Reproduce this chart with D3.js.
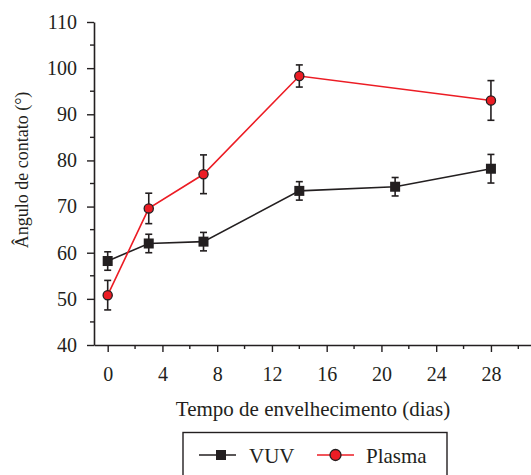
<!DOCTYPE html>
<html>
<head>
<meta charset="utf-8">
<script src="https://cdn.jsdelivr.net/npm/d3@7"></script>
<style>
  body { margin: 0; background: #fff; }
  text { font-family: "Liberation Serif", "Times New Roman", serif; fill: #231f20; }
</style>
</head>
<body>
<svg id="chart" width="531" height="475"></svg>
<script>
const days = [0, 3, 7, 14, 21, 28]
const vuv = [58.2, 62.0, 62.4, 73.4, 74.3, 78.2]
const vuvErr = [2.0, 2.0, 2.0, 2.0, 2.0, 3.1]
const plasmaDays = [0, 3, 7, 14, 28]
const plasma = [50.8, 69.6, 77.0, 98.3, 93.0]
const plasmaErr = [3.2, 3.3, 4.2, 2.4, 4.3]
const xTicks = [0, 4, 8, 12, 16, 20, 24, 28]
const yTicks = [40, 50, 60, 70, 80, 90, 100, 110]

const serif = '"Liberation Serif", "Times New Roman", serif'
const svg = d3.select('#chart')
const ink = '#231f20'
const red = '#ec1c24'

const x = d3.scaleLinear().domain([-1, 31]).range([94, 532])
const y = d3.scaleLinear().domain([40, 110]).range([345, 22])

// minor ticks halfway between labelled ones
const xMinor = d3.range(2, 31, 4)
const yMinor = d3.range(45, 110, 10)

const xAxis = svg.append('g').attr('transform', 'translate(0,345)')
xAxis.call(d3.axisBottom(x).tickValues(xTicks).tickSize(7).tickSizeOuter(0).tickPadding(15))
xAxis.append('g').selectAll('line').data(xMinor).join('line')
    .attr('x1', d => x(d)).attr('x2', d => x(d))
    .attr('y1', 0).attr('y2', 4)

const yAxis = svg.append('g').attr('transform', 'translate(94,0)')
yAxis.call(d3.axisLeft(y).tickValues(yTicks).tickSize(7).tickSizeOuter(0).tickPadding(10))
yAxis.append('g').selectAll('line').data(yMinor).join('line')
    .attr('x1', 0).attr('x2', -4)
    .attr('y1', d => y(d)).attr('y2', d => y(d))

svg.selectAll('.domain').attr('stroke', ink).attr('stroke-width', 1.6)
xAxis.selectAll('line').attr('stroke', ink).attr('stroke-width', 1.4)
yAxis.selectAll('line').attr('stroke', ink).attr('stroke-width', 1.4)
xAxis.attr('font-family', serif)
yAxis.attr('font-family', serif)
svg.selectAll('.tick text')
    .attr('font-family', serif)
    .attr('font-size', 20)
    .attr('fill', ink)

svg.append('text')
    .attr('x', 313).attr('y', 416)
    .attr('text-anchor', 'middle')
    .attr('font-family', serif)
    .attr('font-size', 21)
    .text('Tempo de envelhecimento (dias)')

svg.append('text')
    .attr('transform', 'translate(28,170) rotate(-90)')
    .attr('text-anchor', 'middle')
    .attr('font-family', serif)
    .attr('font-size', 18)
    .text('Ângulo de contato (°)')

const line = d3.line().x(d => x(d[0])).y(d => y(d[1]))

function drawSeries(xs, ys, errs, color, shape) {
    const pts = xs.map((d, i) => [d, ys[i], errs[i]])
    const g = svg.append('g')
    g.append('path').datum(pts)
        .attr('d', line)
        .attr('fill', 'none')
        .attr('stroke', color)
        .attr('stroke-width', 1.6)
    const eb = g.append('g').selectAll('g').data(pts).join('g')
        .attr('stroke', ink).attr('stroke-width', 1.6)
    eb.append('line')
        .attr('x1', d => x(d[0])).attr('x2', d => x(d[0]))
        .attr('y1', d => y(d[1] - d[2])).attr('y2', d => y(d[1] + d[2]))
    eb.append('line')
        .attr('x1', d => x(d[0]) - 3.5).attr('x2', d => x(d[0]) + 3.5)
        .attr('y1', d => y(d[1] + d[2])).attr('y2', d => y(d[1] + d[2]))
    eb.append('line')
        .attr('x1', d => x(d[0]) - 3.5).attr('x2', d => x(d[0]) + 3.5)
        .attr('y1', d => y(d[1] - d[2])).attr('y2', d => y(d[1] - d[2]))
    if (shape === 'square') {
        g.append('g').selectAll('rect').data(pts).join('rect')
            .attr('x', d => x(d[0]) - 5).attr('y', d => y(d[1]) - 5)
            .attr('width', 10).attr('height', 10)
            .attr('fill', ink)
    } else {
        g.append('g').selectAll('circle').data(pts).join('circle')
            .attr('cx', d => x(d[0])).attr('cy', d => y(d[1]))
            .attr('r', 4.6)
            .attr('fill', red)
            .attr('stroke', ink).attr('stroke-width', 1.3)
    }
}

drawSeries(days, vuv, vuvErr, ink, 'square')
drawSeries(plasmaDays, plasma, plasmaErr, red, 'circle')

// legend
const lg = svg.append('g')
lg.append('rect')
    .attr('x', 183).attr('y', 432.5).attr('width', 264).attr('height', 60)
    .attr('fill', '#fff').attr('stroke', ink).attr('stroke-width', 1.4)
lg.append('line').attr('x1', 199).attr('x2', 236).attr('y1', 455).attr('y2', 455)
    .attr('stroke', ink).attr('stroke-width', 1.6)
lg.append('rect').attr('x', 216).attr('y', 450).attr('width', 10).attr('height', 10).attr('fill', ink)
lg.append('text').attr('x', 249).attr('y', 463).attr('font-family', serif).attr('font-size', 21).text('VUV')
lg.append('line').attr('x1', 317).attr('x2', 354).attr('y1', 455).attr('y2', 455)
    .attr('stroke', red).attr('stroke-width', 1.6)
lg.append('circle').attr('cx', 335.5).attr('cy', 455).attr('r', 5.5)
    .attr('fill', red).attr('stroke', ink).attr('stroke-width', 1.3)
lg.append('text').attr('x', 366).attr('y', 463).attr('font-family', serif).attr('font-size', 21).text('Plasma')
</script>
</body>
</html>
